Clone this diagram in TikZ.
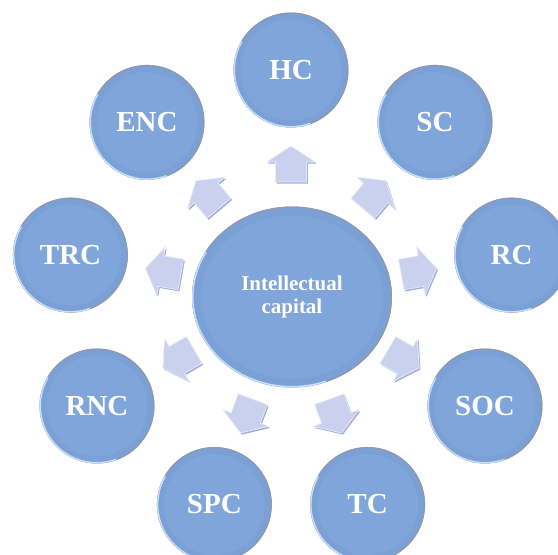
\documentclass[tikz,border=0pt]{standalone}
\usepackage{fontspec}
\setmainfont{Liberation Serif}
\usetikzlibrary{shapes.geometric,calc}
\definecolor{orbfill}{HTML}{80A5DA}
\definecolor{orbdark}{HTML}{6A8EC4}
\definecolor{orbrim}{HTML}{8E9AB0}
\definecolor{orbglow}{HTML}{C6E0FA}
\definecolor{arrfill}{HTML}{C9D1EE}
\definecolor{arrside}{HTML}{A3AED6}
\definecolor{arredge}{HTML}{E8ECF8}
\tikzset{
  orb/.style={circle, minimum size=115pt, inner sep=0pt, text=white,
    font=\bfseries\fontsize{29}{32}\selectfont},
  core/.style={ellipse, minimum width=200pt, minimum height=181pt, inner sep=0pt,
    text=white, align=center, font=\bfseries\fontsize{21}{23}\selectfont},
}
\newcommand\orbdeco[2]{%
  \fill[orbfill] (#1) circle[radius=#2];
  \draw[orbdark, line width=6pt, opacity=0.2] (#1) circle[radius=#2-4pt];
  \draw[orbrim, line width=1.3pt] (#1) circle[radius=#2-0.7pt];
  \draw[orbglow, line width=1.4pt] ($(#1)+(150:#2-0.8pt)$) arc[start angle=150, end angle=290, radius=#2-0.8pt];
}
\newcommand\blockarr[2]{%
  \begin{scope}[shift={(#1)}]
    \fill[arrside, shift={(1.3pt,-1.6pt)}, rotate=#2]
      (-18,-15.5)--(2,-15.5)--(2,-24.5)--(18,0)--(2,24.5)--(2,15.5)--(-18,15.5)--cycle;
    \filldraw[fill=arrfill, draw=arredge, line width=0.7pt, rotate=#2]
      (-18,-15.5)--(2,-15.5)--(2,-24.5)--(18,0)--(2,24.5)--(2,15.5)--(-18,15.5)--cycle;
  \end{scope}}
\begin{document}
\begin{tikzpicture}[x=1pt,y=1pt]
\useasboundingbox (0,0) rectangle (558,555);
\coordinate (o) at (291,261);
% central ellipse
\coordinate (pIC) at (292,258);
\fill[orbfill] (pIC) ellipse[x radius=100, y radius=90.5];
\draw[orbdark, line width=8pt, opacity=0.2] (pIC) ellipse[x radius=95, y radius=85.5];
\draw[orbrim, line width=1.4pt] (pIC) ellipse[x radius=99.3, y radius=89.8];
\draw[orbglow, line width=1.5pt] ($(pIC)+(150:99.2 and 89.7)$) arc[start angle=150, end angle=290, x radius=99.2, y radius=89.7];
\node[core] (IC) at (pIC) {Intellectual\\capital};
% outer orbs and arrows
\foreach \n/\a in {HC/90, SC/50, RC/10, SOC/-30, TC/-70, SPC/-110, RNC/-150, TRC/170, ENC/130} {
  \path (o) ++(\a:224pt) coordinate (p\n);
  \orbdeco{p\n}{57.5pt}
  \node[orb] (\n) at (p\n) {\n};
  \coordinate (a\n) at ($(o)!0.58!(\n)$);
  \blockarr{a\n}{\a}
}
\end{tikzpicture}
\end{document}
